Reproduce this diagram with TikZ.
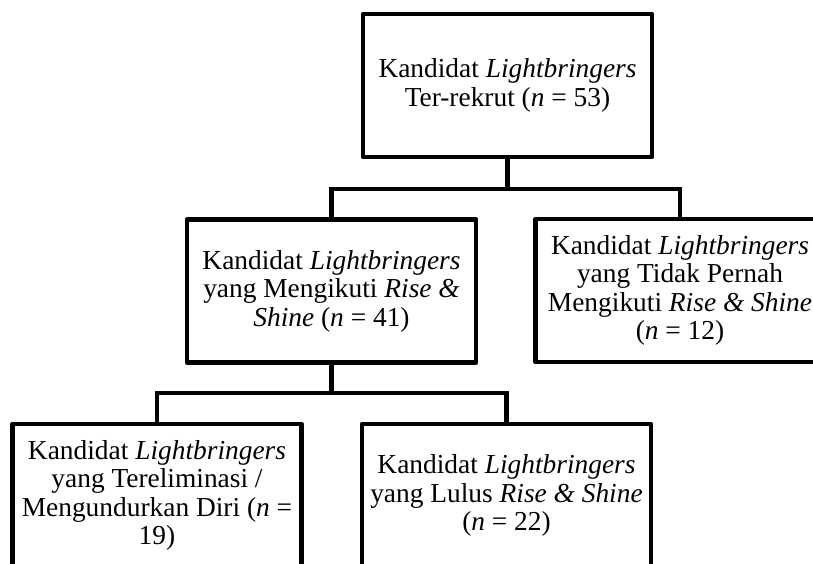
\documentclass[tikz,border=0pt]{standalone}
\usepackage{fontspec}
\setmainfont{Liberation Serif}
\begin{document}
\begin{tikzpicture}[x=1pt,y=-1pt,
  box/.style={draw=black,line width=4.5pt,line join=round,rectangle,
    minimum width=289pt,minimum height=143pt,inner sep=0pt,outer sep=0pt,
    align=center,font=\fontsize{27.4}{28.5}\selectfont},
  link/.style={draw=black,line width=4.5pt,line join=miter}]
\useasboundingbox (0,0) rectangle (813,564);
\fill[white] (0,0) rectangle (813,564);
\clip (0,0) rectangle (813,564);
\node[box] (top) at (507.5,85.5) {Kandidat \textit{Lightbringers}\\Ter-rekrut (\textit{n} = 53)};
\node[box] (midL) at (331.5,291) {Kandidat \textit{Lightbringers}\\yang Mengikuti \textit{Rise \&}\\\textit{Shine} (\textit{n} = 41)};
\node[box] (midR) at (680,290.5) {Kandidat \textit{Lightbringers}\\yang Tidak Pernah\\Mengikuti \textit{Rise \& Shine}\\(\textit{n} = 12)};
\node[box] (botL) at (157,495.5) {Kandidat \textit{Lightbringers}\\yang Tereliminasi /\\Mengundurkan Diri (\textit{n} =\\19)};
\node[box] (botR) at (506.5,495.5) {Kandidat \textit{Lightbringers}\\yang Lulus \textit{Rise \& Shine}\\(\textit{n} = 22)};
\coordinate (j1) at (507.5,189);
\coordinate (j2) at (331.5,393);
\draw[link] (top.south) -- (j1);
\draw[link] (midL.north) |- (j1) -| (midR.north);
\draw[link] (midL.south) -- (j2);
\draw[link] (botL.north) |- (j2) -| (botR.north);
\end{tikzpicture}
\end{document}
